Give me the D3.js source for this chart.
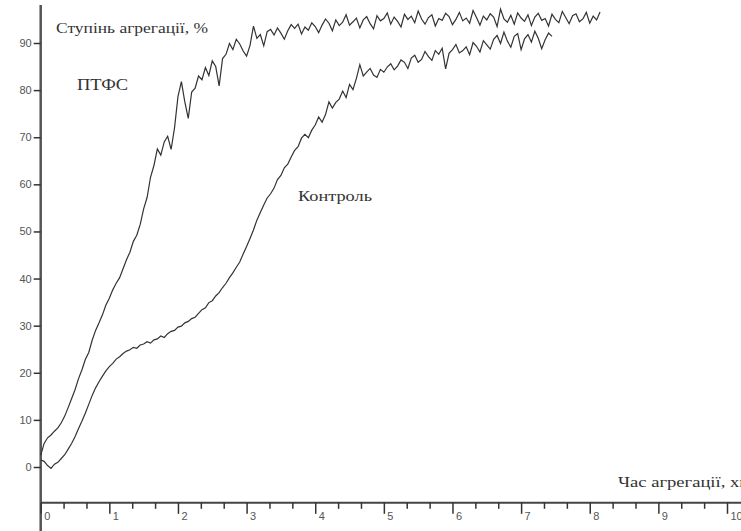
<!DOCTYPE html>
<html>
<head>
<meta charset="utf-8">
<script src="https://cdn.jsdelivr.net/npm/d3@7"></script>
<style>
  body { margin: 0; background: #fff; }
  svg { display: block; }
</style>
</head>
<body>
<svg></svg>
<script>
// sampling of the recorder, minutes
var sampleStep = 0.05;

// ПТФС trace, aggregation degree %, one value per sampleStep from t = 0
var ptfsValues = [
  2.5, 5.0, 6.2, 6.8, 7.6, 8.3, 9.4, 10.8, 12.6, 14.5,
  16.4, 18.7, 20.6, 22.8, 24.3, 26.9, 29.0, 30.6, 32.3, 34.4,
  35.8, 37.6, 39.0, 40.2, 42.1, 44.0, 45.6, 47.9, 49.2, 51.5,
  54.8, 57.2, 61.5, 64.0, 67.5, 66.2, 69.0, 70.2, 67.4, 72.0,
  78.6, 81.8, 77.5, 74.0, 79.6, 80.4, 83.0, 82.2, 84.8, 83.1,
  86.2, 85.0, 80.9, 86.7, 87.6, 89.9, 88.6, 90.8, 89.8, 88.3,
  87.2, 89.5, 93.6, 91.0, 91.8, 89.4, 92.4, 92.9, 91.7, 93.2,
  92.1, 90.8, 92.6, 93.9, 93.1, 94.0, 91.9, 93.4, 92.7, 94.3,
  93.5, 92.2, 93.8, 95.1, 94.2, 92.6, 94.9, 93.7, 94.4, 96.0,
  93.8, 94.5, 95.3, 93.2, 94.9, 95.6, 94.1, 93.0, 95.8, 94.7,
  95.2, 96.4, 94.0, 95.5, 94.6, 93.4, 96.1, 95.0, 95.7, 94.3,
  96.8, 95.1, 94.0, 95.4, 96.0, 93.6, 95.2, 94.8, 96.3, 95.6,
  93.9, 95.0, 96.5, 94.7, 95.3, 94.2, 96.9, 95.4, 93.8, 95.7,
  94.9, 96.2, 95.5, 93.5, 97.2, 95.1, 94.4, 95.9, 94.0, 96.4,
  95.3, 94.6, 96.0, 93.7, 95.5, 96.3, 94.8, 95.2, 93.6, 96.1,
  95.0, 94.3, 96.7, 95.4, 94.1, 95.8, 96.2, 94.5, 95.1, 96.5,
  94.2, 95.7, 94.9, 96.6
];

// Контроль trace
var controlValues = [
  1.5, 1.2, 0.3, -0.3, 0.6, 1.0, 1.8, 2.6, 3.8, 5.0,
  6.4, 8.1, 9.7, 11.4, 13.3, 15.2, 16.8, 18.1, 19.3, 20.4,
  21.3, 22.0, 22.9, 23.4, 24.1, 24.6, 24.9, 25.4, 25.2, 25.9,
  26.1, 26.6, 26.3, 27.0, 27.2, 27.8, 27.5, 28.3, 28.8, 29.0,
  29.7, 29.9, 30.6, 30.9, 31.5, 31.8, 32.6, 33.4, 33.8, 34.9,
  35.3, 36.3, 37.0, 38.1, 39.0, 40.2, 41.2, 42.4, 43.5, 45.2,
  46.8, 48.5, 50.3, 52.4, 54.0, 55.6, 57.1, 58.0, 59.2, 61.0,
  61.9, 63.5, 64.3, 65.8, 67.2, 68.0, 69.8, 70.6, 69.9, 71.5,
  72.6, 74.3, 73.2, 74.8, 77.5, 76.2, 77.4, 78.1, 79.8, 78.4,
  81.2, 80.1, 82.5, 85.4, 83.0, 83.8, 84.6, 83.2, 82.7, 84.4,
  83.8, 84.9, 85.6, 84.3, 85.1, 86.4, 85.9, 84.6, 86.8, 87.4,
  85.9, 86.5, 88.2, 87.1, 86.3, 88.4, 87.6, 88.9, 84.5, 87.8,
  88.6, 89.7, 87.9, 88.4, 89.2, 87.5, 90.1, 89.3, 88.1, 90.5,
  89.6, 88.7, 90.8, 91.6, 89.9, 92.3, 90.4, 89.1, 91.4, 92.0,
  88.6, 90.9, 91.8, 90.2, 92.5, 91.0, 88.8, 90.7, 92.1, 91.4
];

var xTicks = [0, 1, 2, 3, 4, 5, 6, 7, 8, 9, 10];
var yTicks = [0, 10, 20, 30, 40, 50, 60, 70, 80, 90];
var yAxisLabel = "Ступінь агрегації, %";
var xAxisLabel = "Час агрегації, хв";
var seriesLabels = ["ПТФС", "Контроль"];

var width = 741, height = 531;
var serif = "'Liberation Serif', 'DejaVu Serif', 'Times New Roman', serif";

var svg = d3.select("svg")
    .attr("width", width)
    .attr("height", height);

var x = d3.scaleLinear().domain([0, 10]).range([40.7, 727]);
var y = d3.scaleLinear().domain([0, 90]).range([467, 43]);

var axisY = y(-7.6); // where the time axis crosses

// vertical axis line (runs past the time axis like the original)
svg.append("line")
    .attr("x1", x(0)).attr("x2", x(0))
    .attr("y1", 5).attr("y2", height)
    .attr("stroke", "#555").attr("stroke-width", 2.5);

// horizontal axis line
svg.append("line")
    .attr("x1", x(0)).attr("x2", width)
    .attr("y1", axisY).attr("y2", axisY)
    .attr("stroke", "#444").attr("stroke-width", 2);

// y ticks
var gy = svg.append("g")
    .attr("transform", "translate(" + x(0) + ",0)")
    .call(d3.axisLeft(y).tickValues(yTicks).tickSize(7).tickPadding(2));
gy.select(".domain").remove();
gy.selectAll(".tick line").attr("stroke", "#333").attr("stroke-width", 1.5);

// minor x ticks, thirds of a minute
var minorTicks = [];
xTicks.slice(0, -1).forEach(function(t) { minorTicks.push(t + 1 / 3, t + 2 / 3); });

var gxMinor = svg.append("g")
    .attr("transform", "translate(0," + axisY + ")")
    .call(d3.axisBottom(x).tickValues(minorTicks).tickSize(6).tickFormat(""));
gxMinor.select(".domain").remove();
gxMinor.selectAll(".tick line").attr("stroke", "#333").attr("stroke-width", 1.5);

var gx = svg.append("g")
    .attr("transform", "translate(0," + axisY + ")")
    .call(d3.axisBottom(x).tickValues(xTicks).tickSize(11));
gx.select(".domain").remove();
gx.selectAll(".tick line").attr("stroke", "#333").attr("stroke-width", 1.5);
gx.selectAll(".tick text")
    .attr("text-anchor", "start")
    .attr("x", 3)
    .attr("y", 9)
    .attr("dy", "0.71em");

svg.selectAll(".tick text")
    .attr("font-family", "'Liberation Sans', Arial, sans-serif")
    .attr("font-size", 11)
    .attr("fill", "#555");

// traces
var line = d3.line()
    .x(function(d, i) { return x(i * sampleStep); })
    .y(function(d) { return y(d); });

svg.append("path")
    .datum(controlValues)
    .attr("fill", "none")
    .attr("stroke", "#333")
    .attr("stroke-width", 1.2)
    .attr("d", line);

svg.append("path")
    .datum(ptfsValues)
    .attr("fill", "none")
    .attr("stroke", "#333")
    .attr("stroke-width", 1.2)
    .attr("d", line);

// labels, stretched to the width they take in the original
function label(txt, px, py, size, len) {
  svg.append("text")
      .attr("x", px).attr("y", py)
      .attr("font-family", serif)
      .attr("font-size", size)
      .attr("fill", "#333")
      .attr("textLength", len)
      .attr("lengthAdjust", "spacingAndGlyphs")
      .text(txt);
}
label(yAxisLabel, 56, 33, 15, 152);
label(xAxisLabel, 618, 487, 15, 130);
label(seriesLabels[0], 77, 90, 16, 51);
label(seriesLabels[1], 298, 201, 15, 74);
</script>
</body>
</html>
